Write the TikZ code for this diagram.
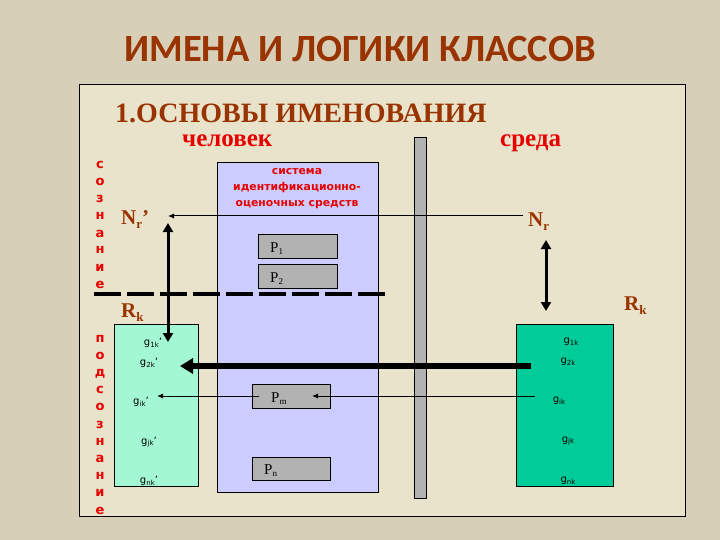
\documentclass[tikz,border=0pt]{standalone}
\usepackage{fontspec}
\setmainfont{Liberation Serif}
\newfontfamily\titlefont{Carlito}
\newfontfamily\sansfnt{DejaVu Sans}
\usetikzlibrary{arrows.meta}
\definecolor{bgout}{HTML}{D8CFB8}
\definecolor{bgin}{HTML}{E9E3CB}
\definecolor{brownt}{HTML}{993300}
\definecolor{redt}{HTML}{E60000}
\definecolor{lav}{HTML}{CCCCFF}
\definecolor{mint}{HTML}{A3F7D3}
\definecolor{tealbox}{HTML}{00CC99}
\definecolor{grayb}{HTML}{B2B2B2}
\newcommand\glab[2]{{\sansfnt\fontsize{10}{10}\selectfont g\raisebox{-1.5pt}{\fontsize{7}{7}\selectfont #1}#2}}
\newcommand\plab[1]{{\rmfamily\fontsize{15}{15}\selectfont P\raisebox{-2.5pt}{\fontsize{9}{9}\selectfont #1}}}
\tikzset{
  boxr/.style={draw=black, line width=1pt, inner sep=0pt},
  vlet/.style={anchor=base, inner sep=0pt, text=redt, font=\sansfnt\bfseries\fontsize{13}{13}\selectfont},
  bigl/.style={anchor=base west, inner sep=0pt, text=brownt, font=\bfseries\fontsize{21}{21}\selectfont},
  systxt/.style={anchor=base, inner sep=0pt, text=redt, font=\sansfnt\bfseries\fontsize{10.8}{10.8}\selectfont},
  gnode/.style={inner sep=0pt},
  thinarrow/.style={draw=black, line width=1pt, -{Latex[length=6pt,width=5pt]}},
  dblarrow/.style={draw=black, line width=3pt, {Triangle[length=9pt,width=10pt]}-{Triangle[length=9pt,width=10pt]}},
  thickarrow/.style={draw=black, line width=6pt, -{Triangle[length=13pt,width=15pt]}},
}
\begin{document}
\begin{tikzpicture}[x=1pt,y=-1pt]
\useasboundingbox (0,0) rectangle (720,540);
\fill[bgout] (0,0) rectangle (720,540);
% frame
\draw[fill=bgin, line width=1pt] (79,85) rectangle (685,516);
% titles
\node[anchor=base, inner sep=0pt, text=brownt, font=\titlefont\bfseries\fontsize{38.5}{38.5}\selectfont] (title) at (360,62) {ИМЕНА И ЛОГИКИ КЛАССОВ};
\node[anchor=base west, inner sep=0pt, text=brownt, font=\bfseries\fontsize{28}{28}\selectfont] (sub) at (115,123) {1.ОСНОВЫ ИМЕНОВАНИЯ};
\node[anchor=base west, inner sep=0pt, text=redt, font=\bfseries\fontsize{25}{25}\selectfont] (chel) at (182,147) {человек};
\node[anchor=base west, inner sep=0pt, text=redt, font=\bfseries\fontsize{25}{25}\selectfont] (sreda) at (500,147) {среда};
% vertical words
\foreach \l [count=\i] in {с,о,з,н,а,н,и,е}
  \node[vlet] (s\i) at (100,{169+17*(\i-1)}) {\l};
\foreach \l [count=\i] in {п,о,д,с,о,з,н,а,н,и,е}
  \node[vlet] (p\i) at (100,{342+17.2*(\i-1)}) {\l};
% central system box
\node[boxr, fill=lav, minimum width=161pt, minimum height=329pt] (sys) at (297.5,327.5) {};
\node[systxt] (sys1) at (297,175) {система};
\node[systxt] (sys2) at (297,191) {идентификационно-};
\node[systxt] (sys3) at (297,207) {оценочных средств};
% gray bar
\node[boxr, fill=grayb, minimum width=12pt, minimum height=360pt] (bar) at (420,318) {};
% P boxes
\node[boxr, fill=grayb, minimum width=79pt, minimum height=24pt] (P1) at (297.5,246) {};
\node[boxr, fill=grayb, minimum width=79pt, minimum height=24pt] (P2) at (297.5,276) {};
\node[boxr, fill=grayb, minimum width=78pt, minimum height=24pt] (Pm) at (291,396) {};
\node[boxr, fill=grayb, minimum width=78pt, minimum height=23pt] (Pn) at (291,468.5) {};
\node[anchor=base west, inner sep=0pt] (P1l) at (270,252) {\plab{1}};
\node[anchor=base west, inner sep=0pt] (P2l) at (270,282) {\plab{2}};
\node[anchor=base west, inner sep=0pt] (Pml) at (271,402) {\plab{m}};
\node[anchor=base west, inner sep=0pt] (Pnl) at (264,474) {\plab{n}};
% left and right boxes
\node[boxr, fill=mint, minimum width=84pt, minimum height=162pt] (gl) at (156,405) {};
\node[boxr, fill=tealbox, minimum width=97pt, minimum height=162pt] (gr) at (564.5,405) {};
% g labels
\node[gnode] (gl1) at (153,343) {\glab{1k}{’}};
\node[gnode] (gl2) at (149,363) {\glab{2k}{’}};
\node[gnode] (gli) at (141,402) {\glab{ik}{’}};
\node[gnode] (glj) at (149,442) {\glab{jk}{’}};
\node[gnode] (gln) at (149,481) {\glab{nk}{’}};
\node[gnode] (gr1) at (571,342) {\glab{1k}{}};
\node[gnode] (gr2) at (568,362) {\glab{2k}{}};
\node[gnode] (gri) at (559,401) {\glab{ik}{}};
\node[gnode] (grj) at (568,441) {\glab{jk}{}};
\node[gnode] (grn) at (568,481) {\glab{nk}{}};
% big labels
\node[bigl] (Nrp) at (121,225) {N\raisebox{-4pt}{\fontsize{13}{13}\selectfont r}’};
\node[bigl] (Nr) at (528,226) {N\raisebox{-4pt}{\fontsize{13}{13}\selectfont r}};
\node[bigl] (Rkl) at (121,317) {R\raisebox{-4pt}{\fontsize{13}{13}\selectfont k}};
\node[bigl] (Rkr) at (624,310) {R\raisebox{-4pt}{\fontsize{13}{13}\selectfont k}};
% dashed line
\coordinate (d1) at (94,294);
\coordinate (d2) at (385,294);
\draw[line width=3.5pt, dash pattern=on 27pt off 6pt] (d1) -- (d2);
% coordinates for arrows
\coordinate (nrs) at (523,216);
\coordinate (nrt) at (168,216);
\coordinate (va1) at (168,223);
\coordinate (va2) at (168,342);
\coordinate (vb1) at (546,240);
\coordinate (vb2) at (546,311);
\coordinate (ths) at (531,366);
\coordinate (tht) at (180,366);
\coordinate (ms) at (535,396);
\coordinate (mt) at (312,396);
\coordinate (ls) at (259,396);
\coordinate (lt) at (157,396);
% arrows
\draw[thinarrow] (nrs) -- (nrt);
\draw[dblarrow] (va1) -- (va2);
\draw[dblarrow] (vb1) -- (vb2);
\draw[thickarrow] (ths) -- (tht);
\draw[thinarrow] (ms) -- (mt);
\draw[thinarrow] (ls) -- (lt);
\end{tikzpicture}
\end{document}
